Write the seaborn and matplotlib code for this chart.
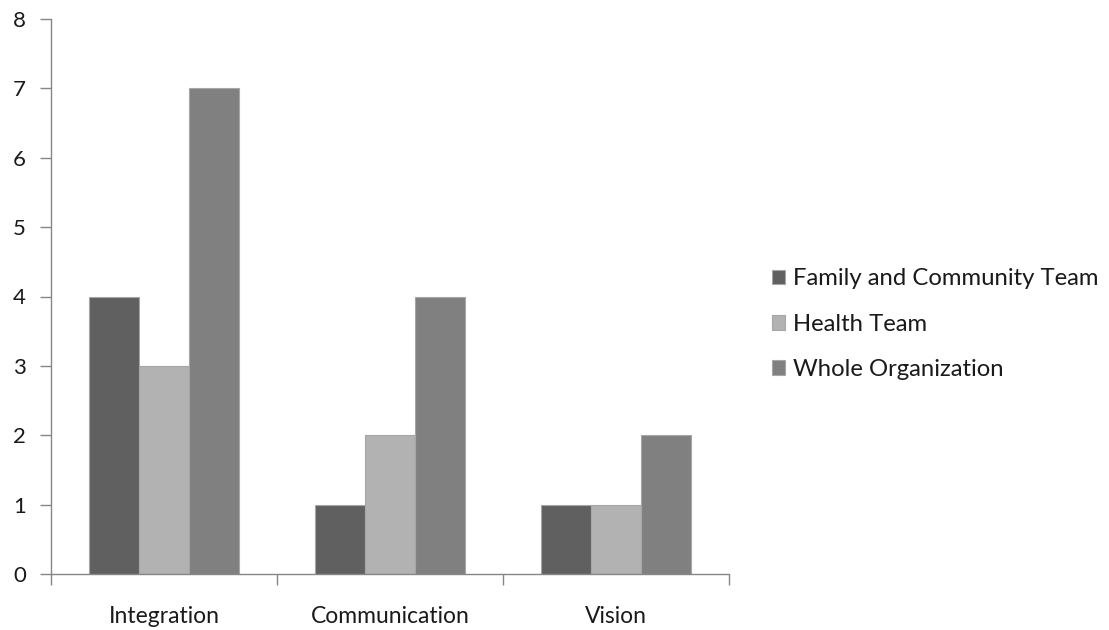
import matplotlib
matplotlib.use("Agg")
import matplotlib.pyplot as plt
import seaborn as sns
import pandas as pd

categories = ["Integration", "Communication", "Vision"]
series = ["Family and Community Team", "Health Team", "Whole Organization"]
family_community = [4, 1, 1]
health_team = [3, 2, 1]
whole_org = [7, 4, 2]
y_ticks = [0, 1, 2, 3, 4, 5, 6, 7, 8]

colors = ["#606060", "#b2b2b2", "#808080"]

rows = []
for name, vals in zip(series, [family_community, health_team, whole_org]):
    for cat, v in zip(categories, vals):
        rows.append({"Category": cat, "Series": name, "Value": v})
df = pd.DataFrame(rows)

sns.set_theme(style="white")
plt.rcParams["font.family"] = ["Lato", "DejaVu Sans"]

fig = plt.figure(figsize=(11.09, 6.30), dpi=100)
ax = fig.add_axes([51 / 1109, 56 / 630, (729 - 51) / 1109, (574 - 19) / 630])

sns.barplot(data=df, x="Category", y="Value", hue="Series", order=categories,
            hue_order=series, palette=colors, saturation=1, width=0.667,
            edgecolor="#a6a6a6", linewidth=0.8, ax=ax, legend=True)

ax.set_xlim(-0.5, 2.5)
ax.set_ylim(0, 8)
ax.set_yticks(y_ticks)
ax.set_xlabel("")
ax.set_ylabel("")

for s in ["top", "right"]:
    ax.spines[s].set_visible(False)
for s in ["left", "bottom"]:
    ax.spines[s].set_color("#868686")
    ax.spines[s].set_linewidth(1.0)

ax.tick_params(axis="y", which="major", length=8, width=1, color="#868686",
               labelsize=16, pad=10, labelcolor="#1a1a1a", left=True)
ax.tick_params(axis="x", which="major", length=0, labelsize=16.5, pad=23,
               labelcolor="#1a1a1a")
ax.set_xticks([-0.5, 0.5, 1.5, 2.5], minor=True)
ax.tick_params(axis="x", which="minor", length=8, width=1, color="#868686",
               bottom=True, direction="out")

handles, labels = ax.get_legend_handles_labels()
ax.legend(handles, labels, loc="center left", bbox_to_anchor=(1.031, 0.45),
          frameon=False, fontsize=17.2, handlelength=0.58, handleheight=0.58,
          handletextpad=0.3, labelspacing=1.02, labelcolor="#1a1a1a")

fig.savefig("out.png", dpi=100)
